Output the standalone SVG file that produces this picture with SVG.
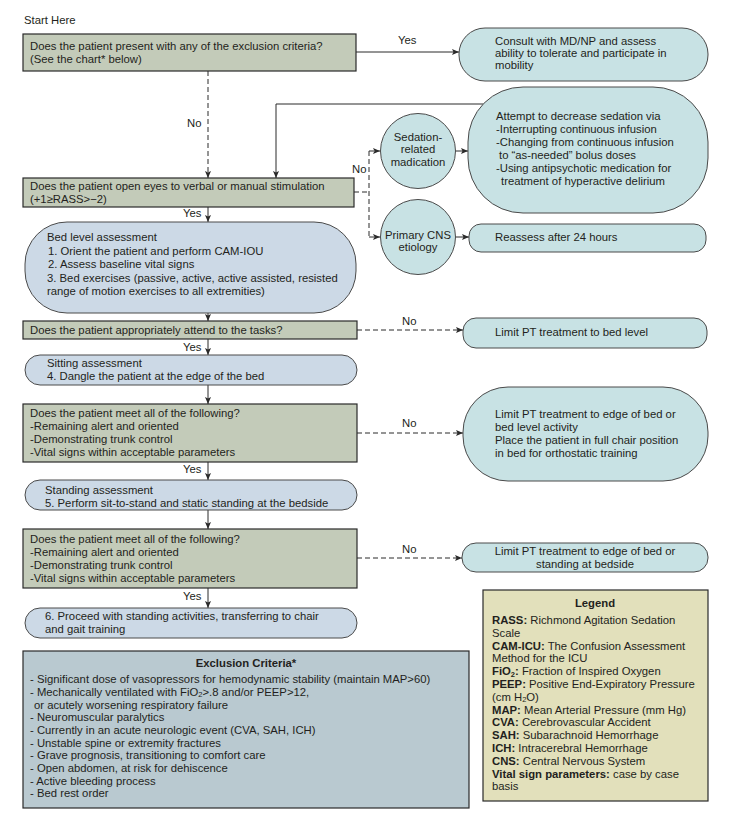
<svg xmlns="http://www.w3.org/2000/svg" width="729" height="822" viewBox="0 0 729 822">
<defs>
<style>
text{font-family:"Liberation Sans",Arial,sans-serif;font-size:11.3px;fill:#231f20}
.b{font-weight:bold}
.s{font-size:7.5px}
.q{fill:#c3cbb9;stroke:#2a2a2a;stroke-width:1.2}
.t{fill:#c8e2e4;stroke:#4a4a4a;stroke-width:1}
.p{fill:#ccd9e6;stroke:#4a4a4a;stroke-width:1}
.ex{fill:#b9c9d0;stroke:#2a2a2a;stroke-width:1.2}
.lg{fill:#e2e0bb;stroke:#2a2a2a;stroke-width:1.2}
.c{fill:none;stroke:#2a2a2a;stroke-width:1}
.d{stroke-dasharray:5 3}
.m{text-anchor:middle}
</style>
<marker id="ah" markerUnits="userSpaceOnUse" markerWidth="8" markerHeight="6" refX="7" refY="3" orient="auto">
<path d="M0,0 L7,3 L0,6 L1.5,3 z" fill="#2a2a2a"/>
</marker>
</defs>
<rect width="729" height="822" fill="#ffffff"/>
<text x="24" y="24">Start Here</text>

<g id="connectors">
<path class="c" d="M356,52 H459" marker-end="url(#ah)"/>
<text x="398" y="44">Yes</text>
<path class="c d" d="M208,71 V178" marker-end="url(#ah)"/>
<text x="187" y="127">No</text>
<path class="c" d="M483,104 H276 V178" marker-end="url(#ah)"/>
<path class="c d" d="M354,192 H369 M369,151 V237"/>
<path class="c d" d="M369,151 H380" marker-end="url(#ah)"/>
<path class="c d" d="M369,237 H380" marker-end="url(#ah)"/>
<text x="352" y="173">No</text>
<path class="c" d="M456,151 H468" marker-end="url(#ah)"/>
<path class="c" d="M456,237 H469" marker-end="url(#ah)"/>
<path class="c" d="M208,207 V222" marker-end="url(#ah)"/>
<text x="183" y="217">Yes</text>
<path class="c" d="M208,313 V321" marker-end="url(#ah)"/>
<path class="c d" d="M357,330 H463" marker-end="url(#ah)"/>
<text x="402" y="325">No</text>
<path class="c" d="M208,339 V355" marker-end="url(#ah)"/>
<text x="183" y="351">Yes</text>
<path class="c" d="M208,385 V404" marker-end="url(#ah)"/>
<path class="c d" d="M357,433 H463" marker-end="url(#ah)"/>
<text x="402" y="427">No</text>
<path class="c" d="M208,462 V480" marker-end="url(#ah)"/>
<text x="183" y="473">Yes</text>
<path class="c" d="M208,510 V529" marker-end="url(#ah)"/>
<path class="c d" d="M357,558 H462" marker-end="url(#ah)"/>
<text x="402" y="553">No</text>
<path class="c" d="M208,588 V608" marker-end="url(#ah)"/>
<text x="183" y="600">Yes</text>
</g>

<g id="q-exclusion">
<rect class="q" x="23" y="34" width="333" height="37"/>
<text x="30" y="49.5">Does the patient present with any of the exclusion criteria?</text>
<text x="30" y="62.5">(See the chart* below)</text>
</g>

<g id="consult">
<rect class="t" x="459" y="28" width="249" height="53" rx="26" ry="26"/>
<text x="495" y="45">Consult with MD/NP and assess</text>
<text x="495" y="57">ability to tolerate and participate in</text>
<text x="495" y="69">mobility</text>
</g>

<g id="q-eyes">
<rect class="q" x="23" y="178" width="331" height="29"/>
<text x="30" y="190">Does the patient open eyes to verbal or manual stimulation</text>
<text x="30" y="203">(+1≥RASS&gt;−2)</text>
</g>

<g id="sedation">
<circle class="t" cx="418" cy="151" r="37.5"/>
<text class="m" x="418" y="141">Sedation-</text>
<text class="m" x="418" y="153">related</text>
<text class="m" x="418" y="165.5">madication</text>
</g>

<g id="cns">
<circle class="t" cx="418" cy="237" r="37.5"/>
<text class="m" x="418" y="239">Primary CNS</text>
<text class="m" x="418" y="251">etiology</text>
</g>

<g id="attempt">
<rect class="t" x="468" y="87" width="240" height="126" rx="55" ry="55"/>
<text x="496" y="120">Attempt to decrease sedation via</text>
<text x="496" y="133">-Interrupting continuous infusion</text>
<text x="496" y="146">-Changing from continuous infusion</text>
<text x="499" y="159">to “as-needed”  bolus doses</text>
<text x="496" y="172">-Using antipsychotic medication for</text>
<text x="501" y="185">treatment of hyperactive delirium</text>
</g>

<g id="reassess">
<rect class="t" x="469" y="224" width="237" height="28" rx="12" ry="12"/>
<text x="495" y="241">Reassess after 24 hours</text>
</g>

<g id="bed">
<rect class="p" x="25" y="222" width="331" height="91" rx="42" ry="42"/>
<text x="47" y="241">Bed level assessment</text>
<text x="48" y="254.5">1. Orient the patient and perform CAM-IOU</text>
<text x="48" y="268">2. Assess baseline vital signs</text>
<text x="47" y="281.5">3. Bed exercises (passive, active, active assisted, resisted</text>
<text x="47" y="295">range of motion exercises to all extremities)</text>
</g>

<g id="q-attend">
<rect class="q" x="23" y="321" width="334" height="18"/>
<text x="30" y="334">Does the patient appropriately attend to the tasks?</text>
</g>

<g id="limit-bed">
<rect class="t" x="463" y="318" width="244" height="30" rx="13" ry="13"/>
<text x="495" y="336">Limit PT treatment to bed level</text>
</g>

<g id="sitting">
<rect class="p" x="25" y="355" width="332" height="30" rx="15" ry="15"/>
<text x="47" y="367">Sitting assessment</text>
<text x="47" y="380">4. Dangle the patient at the edge of the bed</text>
</g>

<g id="q-meet1">
<rect class="q" x="23" y="404" width="334" height="58"/>
<text x="30" y="417">Does the patient meet all of the following?</text>
<text x="30" y="430">-Remaining alert and oriented</text>
<text x="30" y="443">-Demonstrating trunk control</text>
<text x="30" y="456">-Vital signs within acceptable parameters</text>
</g>

<g id="limit-edge">
<rect class="t" x="463" y="387" width="245" height="94" rx="45" ry="45"/>
<text x="495" y="418">Limit PT treatment to edge of bed or</text>
<text x="495" y="431">bed level activity</text>
<text x="495" y="444">Place the patient in full chair position</text>
<text x="495" y="457">in bed for orthostatic training</text>
</g>

<g id="standing">
<rect class="p" x="25" y="480" width="332" height="30" rx="15" ry="15"/>
<text x="45" y="494">Standing assessment</text>
<text x="45" y="507">5. Perform sit-to-stand and static standing at the bedside</text>
</g>

<g id="q-meet2">
<rect class="q" x="23" y="529" width="334" height="59"/>
<text x="30" y="543">Does the patient meet all of the following?</text>
<text x="30" y="556">-Remaining alert and oriented</text>
<text x="30" y="569">-Demonstrating trunk control</text>
<text x="30" y="582">-Vital signs within acceptable parameters</text>
</g>

<g id="limit-standing">
<rect class="t" x="462" y="543" width="246" height="29" rx="14" ry="14"/>
<text class="m" x="585" y="555">Limit PT treatment to edge of bed or</text>
<text class="m" x="585" y="568">standing at bedside</text>
</g>

<g id="proceed">
<rect class="p" x="25" y="608" width="332" height="30" rx="15" ry="15"/>
<text x="45" y="620">6. Proceed with standing activities, transferring to chair</text>
<text x="45" y="633">and gait training</text>
</g>

<g id="exclusion-criteria">
<rect class="ex" x="23" y="651" width="446" height="157"/>
<text class="b m" x="246" y="667">Exclusion Criteria*</text>
<text x="30" y="683">- Significant dose of vasopressors for hemodynamic stability (maintain MAP&gt;60)</text>
<text x="30" y="695.5">- Mechanically ventilated with FiO<tspan class="s" dy="1.5">2</tspan><tspan dy="-1.5">&gt;.8 and/or PEEP&gt;12,</tspan></text>
<text x="34" y="708.5">or acutely worsening respiratory failure</text>
<text x="30" y="721">- Neuromuscular paralytics</text>
<text x="30" y="734">- Currently in an acute neurologic event (CVA, SAH, ICH)</text>
<text x="30" y="746.5">- Unstable spine or extremity fractures</text>
<text x="30" y="759">- Grave prognosis, transitioning to comfort care</text>
<text x="30" y="772">- Open abdomen, at risk for dehiscence</text>
<text x="30" y="784.5">- Active bleeding process</text>
<text x="30" y="797">- Bed rest order</text>
</g>

<g id="legend">
<rect class="lg" x="483" y="590" width="225" height="211"/>
<text class="b m" x="595" y="607">Legend</text>
<text x="492" y="624"><tspan class="b">RASS:</tspan> Richmond Agitation Sedation</text>
<text x="492" y="636.8">Scale</text>
<text x="492" y="649.6"><tspan class="b">CAM-ICU:</tspan> The Confusion Assessment</text>
<text x="492" y="662.4">Method for the ICU</text>
<text x="492" y="675"><tspan class="b">FiO</tspan><tspan class="b s" dy="1.5">2</tspan><tspan class="b" dy="-1.5">:</tspan> Fraction of Inspired Oxygen</text>
<text x="492" y="688"><tspan class="b">PEEP:</tspan> Positive End-Expiratory Pressure</text>
<text x="492" y="700.5">(cm H<tspan class="s" dy="1.5">2</tspan><tspan dy="-1.5">O)</tspan></text>
<text x="492" y="713.6"><tspan class="b">MAP:</tspan> Mean Arterial Pressure (mm Hg)</text>
<text x="492" y="726.4"><tspan class="b">CVA:</tspan> Cerebrovascular Accident</text>
<text x="492" y="739.2"><tspan class="b">SAH:</tspan> Subarachnoid Hemorrhage</text>
<text x="492" y="752"><tspan class="b">ICH:</tspan> Intracerebral Hemorrhage</text>
<text x="492" y="764.8"><tspan class="b">CNS:</tspan> Central Nervous System</text>
<text x="492" y="777.6"><tspan class="b">Vital sign parameters:</tspan> case by case</text>
<text x="492" y="790.4">basis</text>
</g>
</svg>
